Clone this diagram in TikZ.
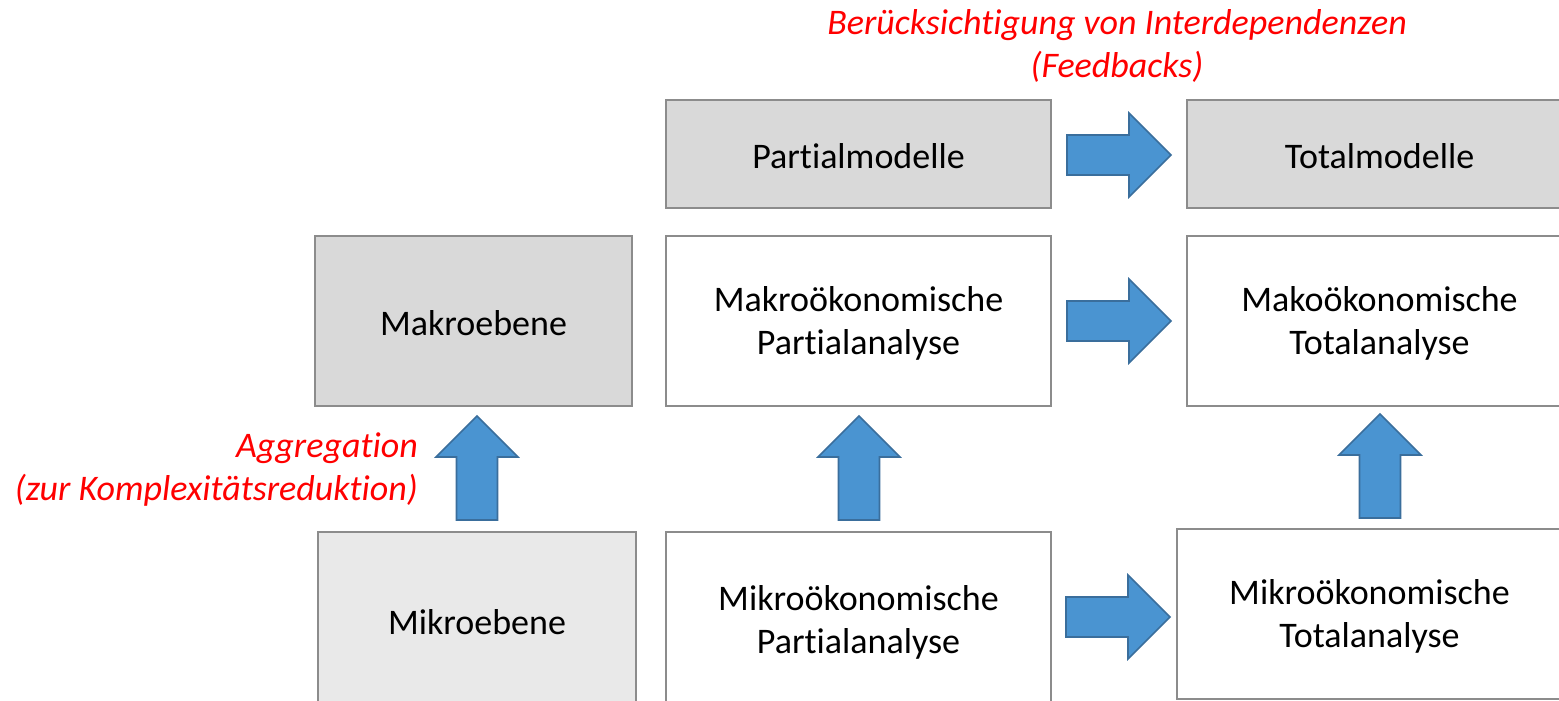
\documentclass[tikz,border=0pt]{standalone}
\usepackage{fontspec}
\setmainfont{Carlito}[Ligatures=NoCommon]
\definecolor{boxgray}{HTML}{D9D9D9}
\definecolor{boxlight}{HTML}{E9E9E9}
\definecolor{boxline}{HTML}{8C8C8C}
\definecolor{arrfill}{HTML}{4A94D1}
\definecolor{arrline}{HTML}{3A6E9C}
\definecolor{redtext}{HTML}{FF0000}
\tikzset{
  box/.style={draw=boxline, line width=1.6pt, inner sep=0pt},
  boxtext/.style={inner sep=0pt, align=center, font=\fontsize{36}{43}\selectfont, yshift=-2.5pt},
  rednote/.style={text=redtext, font=\fontsize{36}{43}\selectfont\itshape, inner sep=0pt},
  blockarrow/.style={fill=arrfill, draw=arrline, line width=1.6pt, line join=miter},
  pics/rarrow/.style={code={
    \draw[blockarrow] (0,-20) -- (62,-20) -- (62,-42) -- (104,0) -- (62,42) -- (62,20) -- (0,20) -- cycle;}},
  pics/uarrow/.style={code={
    \draw[blockarrow] (-20.5,0) -- (-20.5,-63) -- (-41,-63) -- (0,-104) -- (41,-63) -- (20.5,-63) -- (20.5,0) -- cycle;}}
}
\begin{document}
\begin{tikzpicture}[x=1pt,y=-1pt]
\useasboundingbox (0,0) rectangle (1559,701);
\fill[white] (0,0) rectangle (1559,701);
% boxes
\node[box, fill=boxgray, minimum width=385pt, minimum height=108pt] (pm) at (858.5,154) {};
\node[box, fill=boxgray, minimum width=385pt, minimum height=108pt] (tm) at (1379.5,154) {};
\node[box, fill=boxgray, minimum width=317pt, minimum height=170pt] (ma) at (473.5,321) {};
\node[box, fill=white, minimum width=385pt, minimum height=170pt] (map) at (858.5,321) {};
\node[box, fill=white, minimum width=385pt, minimum height=170pt] (mat) at (1379.5,321) {};
\node[box, fill=boxlight, minimum width=318pt, minimum height=176pt] (mi) at (477,620) {};
\node[box, fill=white, minimum width=385pt, minimum height=176pt] (mip) at (858.5,620) {};
\node[box, fill=white, minimum width=385pt, minimum height=170pt] (mit) at (1369.5,614) {};
% box texts
\node[boxtext] (pmt) at (pm.center) {Partialmodelle};
\node[boxtext] (tmt) at (tm.center) {Totalmodelle};
\node[boxtext] (mat0) at (ma.center) {Makroebene};
\node[boxtext] (mapt) at (map.center) {Makroökonomische\\Partialanalyse};
\node[boxtext] (matt) at (mat.center) {Makoökonomische\\Totalanalyse};
\node[boxtext] (mit0) at (mi.center) {Mikroebene};
\node[boxtext] (mipt) at (mip.center) {Mikroökonomische\\Partialanalyse};
\node[boxtext] (mitt) at (mit.center) {Mikroökonomische\\Totalanalyse};
% block arrows
\pic at (1067,155) {rarrow};
\pic at (1067,321) {rarrow};
\pic at (1066,617) {rarrow};
\pic at (477,520) {uarrow};
\pic at (859,520) {uarrow};
\pic at (1380,518) {uarrow};
% red notes
\node[rednote, align=center] (fb) at (1117,45.5) {Berücksichtigung von Interdependenzen\\(Feedbacks)};
\node[rednote, align=right, anchor=east] (agg) at (418,469.5) {Aggregation\\(zur Komplexitätsreduktion)};
\end{tikzpicture}
\end{document}
